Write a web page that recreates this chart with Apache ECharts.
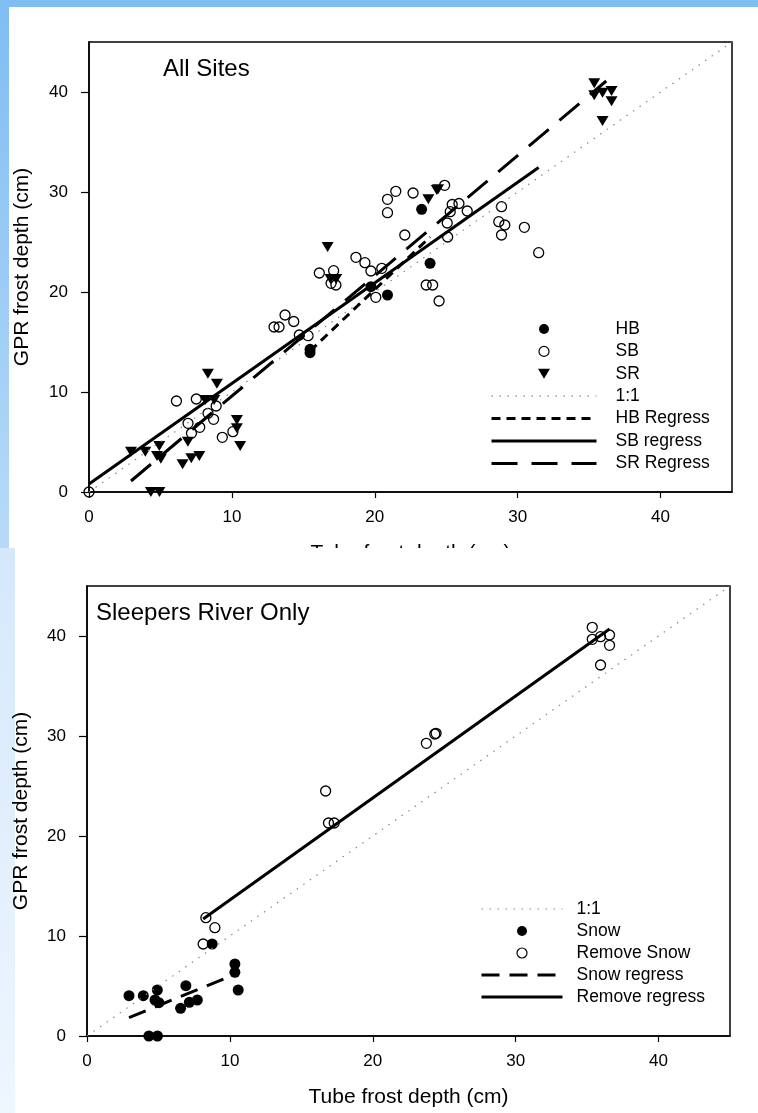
<!DOCTYPE html>
<html>
<head>
<meta charset="utf-8">
<title>GPR vs tube frost depth</title>
<script src="https://cdn.jsdelivr.net/npm/echarts@6/dist/echarts.min.js"></script>
<style>
  body { margin: 0; width: 758px; height: 1113px; position: relative; background: #fff; overflow: hidden; }
  #band { position: absolute; left: 0; top: 0; width: 758px; height: 7px; background: #7fbdf2; }
  #stripTop { position: absolute; left: 0; top: 0; width: 9px; height: 548px; background: linear-gradient(#7fbdf2, #b8daf8); }
  #stripBottom { position: absolute; left: 0; top: 548px; width: 15px; height: 565px; background: linear-gradient(#d5e8fb, #eef6fe); }
  #chartTop { position: absolute; left: 0; top: 0; width: 758px; height: 548px; }
  #chartBottom { position: absolute; left: 0; top: 548px; width: 758px; height: 565px; }
</style>
</head>
<body>
<div id="band"></div>
<div id="stripTop"></div>
<div id="stripBottom"></div>
<div id="chartTop"></div>
<div id="chartBottom"></div>
<script>
// axis range (cm), both panels
var axisMin = 0
var axisMax = 45
var tickStep = 10
var tickLabels = [0, 10, 20, 30, 40]

// ---- All Sites ----
var hbX = [15.47, 15.47, 19.73, 20.89, 23.87, 23.28]
var hbY = [14.27, 13.93, 20.53, 19.7, 22.87, 28.27]

var sbX = [0, 6.12, 7.51, 6.93, 7.17, 7.75, 8.33, 8.72, 8.9, 9.33, 10.07, 12.95, 13.3, 13.72, 14.33, 14.72, 15.33,
  16.12, 17.12, 16.94, 17.28, 18.68, 19.31, 19.73, 20.49, 20.07, 20.89, 21.47, 20.89, 22.68, 22.1, 23.6, 24.05,
  24.5, 24.89, 25.42, 25.89, 25.28, 26.47, 25.07, 25.1, 28.87, 28.68, 29.1, 28.87, 30.47, 31.47]
var sbY = [0, 9.1, 9.3, 6.87, 5.87, 6.47, 7.87, 7.27, 8.6, 5.47, 6.03, 16.5, 16.5, 17.7, 17.05, 15.7, 15.63,
  21.9, 22.13, 20.87, 20.7, 23.47, 22.93, 22.1, 22.37, 19.47, 29.27, 30.07, 27.93, 29.9, 25.7, 20.7, 20.7,
  19.1, 30.67, 28.75, 28.85, 28.03, 28.1, 26.9, 25.5, 28.53, 27.03, 26.7, 25.7, 26.47, 23.93]

// ---- Sleepers River (SR) : snow / snow removed ----
var snowX = [2.94, 3.94, 4.92, 4.76, 5.03, 6.55, 6.92, 7.16, 7.72, 8.76, 10.35, 10.35, 10.58, 4.33, 4.93]
var snowY = [4.03, 4.03, 4.6, 3.6, 3.33, 2.77, 5.03, 3.37, 3.6, 9.2, 7.2, 6.37, 4.6, 0, 0]

var removeX = [8.32, 8.95, 8.13, 16.7, 16.9, 17.3, 23.75, 24.34, 24.43, 35.36, 35.36, 35.94, 36.57, 36.57, 35.94]
var removeY = [11.83, 10.83, 9.2, 24.5, 21.3, 21.3, 29.27, 30.2, 30.27, 40.87, 39.67, 39.93, 40.1, 39.07, 37.1]

// regression lines (end points)
var hbRegX = [15.47, 23.87]
var hbRegY = [14.1, 25.5]
var sbRegX = [0, 31.47]
var sbRegY = [0.8, 32.46]
var srRegX = [2.94, 36.2]
var srRegY = [1.1, 41.1]
var snowRegX = [2.94, 10.58]
var snowRegY = [1.84, 6.3]
var removeRegX = [8.13, 36.57]
var removeRegY = [11.7, 40.7]

// 1:1 line
var oneX = [0, 45]
var oneY = [0, 45]

var font = '"Liberation Sans", Arial, sans-serif'
// down triangle for the legend (keeps its aspect inside the wide legend box)
var downTri = 'path://M0,0 L12,0 L6,10 Z'

function pts(xs, ys) {
  return xs.map(function (x, i) { return [x, ys[i]] })
}

function makeAxis(name, nameGap, tickLen, labelMargin) {
  return {
    type: 'value', min: axisMin, max: axisMax, interval: tickStep,
    name: name, nameLocation: 'middle', nameGap: nameGap,
    nameTextStyle: { fontFamily: font, fontSize: 21, color: '#000' },
    axisLine: { show: true, onZero: false, lineStyle: { color: '#000', width: 1.5 } },
    axisTick: { show: true, inside: false, length: tickLen, customValues: tickLabels, lineStyle: { color: '#000', width: 1.2 } },
    axisLabel: { fontFamily: font, fontSize: 17, color: '#000', margin: labelMargin, customValues: tickLabels },
    splitLine: { show: false }
  }
}

function scatter(name, data, kind) {
  var s = { name: name, type: 'scatter', data: data, z: 2, silent: true }
  if (kind == 'filled') {
    s.symbol = 'circle'; s.symbolSize = 11
    s.itemStyle = { color: '#000', opacity: 1 }
  } else if (kind == 'open') {
    s.symbol = 'circle'; s.symbolSize = 10
    s.itemStyle = { color: 'transparent', borderColor: '#000', borderWidth: 1.3, opacity: 1 }
  } else {
    s.symbol = 'triangle'; s.symbolSize = [12, 10]; s.symbolRotate = 180
    s.itemStyle = { color: '#000', opacity: 1 }
  }
  return s
}

function line(name, data, width, dash, color) {
  return {
    name: name, type: 'line', data: data, symbol: 'none', z: 3, silent: true,
    itemStyle: { color: 'transparent' },
    lineStyle: { color: color || '#000', width: width, type: dash }
  }
}

function legendText(pad) {
  return { fontFamily: font, fontSize: 17.5, color: '#000', lineHeight: 18, padding: [0, 0, 0, pad] }
}

var noBounds = { outerBoundsMode: 'none', containLabel: false, show: true, borderColor: '#000', borderWidth: 1.5 }

// top panel
var srX = snowX.concat(removeX)
var srY = snowY.concat(removeY)

var chartTop = echarts.init(document.getElementById('chartTop'), null, { renderer: 'canvas' })
chartTop.setOption({
  animation: false,
  title: {
    text: 'All Sites', left: 163, top: 57, padding: 0,
    textStyle: { fontFamily: font, fontSize: 24, fontWeight: 'normal', color: '#000' }
  },
  grid: Object.assign({ left: 89, top: 42, width: 643, height: 450 }, noBounds),
  xAxis: makeAxis('Tube frost depth (cm)', 51, 6, 17),
  yAxis: makeAxis('GPR frost depth (cm)', 56, 8, 21),
  legend: {
    orient: 'vertical', left: 485, top: 315, itemWidth: 105, itemHeight: 10, itemGap: 4.4,
    selectedMode: false, symbolKeepAspect: true, textStyle: legendText(14),
    data: [
      { name: 'HB' },
      { name: 'SB', itemStyle: { borderWidth: 1.2 } },
      { name: 'SR', icon: downTri, symbolRotate: 0 },
      { name: '1:1', lineStyle: { width: 1.2 } },
      { name: 'HB Regress', lineStyle: { width: 3 } },
      { name: 'SB regress', lineStyle: { width: 3 } },
      { name: 'SR Regress', lineStyle: { width: 3 } }
    ]
  },
  series: [
    scatter('HB', pts(hbX, hbY), 'filled'),
    scatter('SB', pts(sbX, sbY), 'open'),
    scatter('SR', pts(srX, srY), 'tri'),
    line('1:1', pts(oneX, oneY), 1.2, [1.5, 6.5], '#888'),
    line('HB Regress', pts(hbRegX, hbRegY), 3, [9, 6]),
    line('SB regress', pts(sbRegX, sbRegY), 3, 'solid'),
    line('SR Regress', pts(srRegX, srRegY), 3, [26, 14])
  ]
})

// bottom panel
var chartBottom = echarts.init(document.getElementById('chartBottom'), null, { renderer: 'canvas' })
chartBottom.setOption({
  animation: false,
  title: {
    text: 'Sleepers River Only', left: 96, top: 53, padding: 0,
    textStyle: { fontFamily: font, fontSize: 24, fontWeight: 'normal', color: '#000' }
  },
  grid: Object.assign({ left: 87, top: 38, width: 643, height: 450 }, noBounds),
  xAxis: makeAxis('Tube frost depth (cm)', 51, 6, 17),
  yAxis: makeAxis('GPR frost depth (cm)', 55, 8, 21),
  legend: {
    orient: 'vertical', left: 475, top: 347, itemWidth: 81, itemHeight: 10, itemGap: 4,
    selectedMode: false, symbolKeepAspect: true, textStyle: legendText(9),
    data: [
      { name: '1:1', lineStyle: { width: 1.2 } },
      { name: 'Snow' },
      { name: 'Remove Snow', itemStyle: { borderWidth: 1.2 } },
      { name: 'Snow regress', lineStyle: { width: 3 } },
      { name: 'Remove regress', lineStyle: { width: 3 } }
    ]
  },
  series: [
    scatter('Snow', pts(snowX, snowY), 'filled'),
    scatter('Remove Snow', pts(removeX, removeY), 'open'),
    line('1:1', pts(oneX, oneY), 1.2, [1.5, 6.5], '#888'),
    line('Snow regress', pts(snowRegX, snowRegY), 3, [18, 10]),
    line('Remove regress', pts(removeRegX, removeRegY), 3, 'solid')
  ]
})
</script>
</body>
</html>
